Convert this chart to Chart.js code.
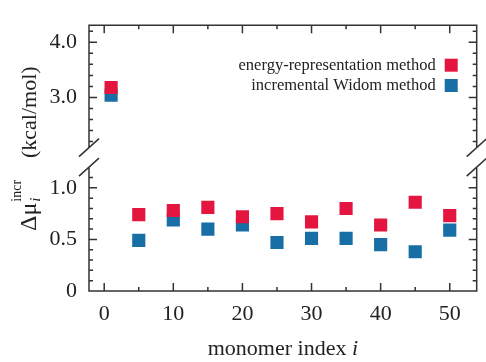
<!DOCTYPE html>
<html>
<head>
<meta charset="utf-8">
<style>
  html, body { margin: 0; padding: 0; background: #fff; }
  canvas { display: block; }
</style>
</head>
<body>
<canvas id="chart" width="486" height="362"></canvas>
<script src="https://cdn.jsdelivr.net/npm/chart.js@4.4.1/dist/chart.umd.min.js"></script>
<script>
const monomerIndex = [1, 5, 10, 15, 20, 25, 30, 35, 40, 45, 50];
const energyRepresentation = [3.18, 0.74, 0.78, 0.81, 0.72, 0.75, 0.67, 0.80, 0.64, 0.86, 0.73];
const incrementalWidom = [3.04, 0.49, 0.69, 0.60, 0.64, 0.47, 0.51, 0.51, 0.45, 0.38, 0.59];

const seriesLabels = ['energy-representation method', 'incremental Widom method'];
const seriesColors = ['#e4163f', '#176fa6'];

const xTickLabels = [0, 10, 20, 30, 40, 50];
const yTopTickLabels = [3.0, 4.0];
const yBottomTickLabels = [0, 0.5, 1.0];

// values above this go to the upper panel of the broken axis
const breakAt = 2;
// visible ends of the axis frame on each side of the break
const topFrameMin = 2.09;
const bottomFrameMax = 1.2;

const FONT = "'Liberation Serif', 'DejaVu Serif', serif";
const INK = '#222';
const FRAME = '#333';

const hasLabel = (list, value) => list.some((t) => Math.abs(t - value) < 1e-6);
const fmt = (value) => (value === 0 ? '0' : value.toFixed(1));

/* PLUGINS */

// white page behind the chart
const background = {
  id: 'background',
  beforeDraw(chart) {
    const { ctx, width, height } = chart;
    ctx.save();
    ctx.fillStyle = '#fff';
    ctx.fillRect(0, 0, width, height);
    ctx.restore();
  },
};

// box frame with inward ticks and the axis break marks
const frame = {
  id: 'frame',
  afterDatasetsDraw(chart) {
    const { ctx, chartArea } = chart;
    const { left, right, top, bottom } = chartArea;
    const { x, yTop, yBottom } = chart.scales;
    const topEnd = yTop.getPixelForValue(topFrameMin);
    const bottomStart = yBottom.getPixelForValue(bottomFrameMax);

    ctx.save();
    ctx.strokeStyle = FRAME;
    ctx.lineWidth = 1.5;
    ctx.beginPath();
    ctx.moveTo(left, topEnd);
    ctx.lineTo(left, top);
    ctx.lineTo(right, top);
    ctx.lineTo(right, topEnd);
    ctx.moveTo(left, bottomStart);
    ctx.lineTo(left, bottom);
    ctx.lineTo(right, bottom);
    ctx.lineTo(right, bottomStart);

    // break marks
    [left, right].forEach((bx) => {
      [topEnd, bottomStart].forEach((by) => {
        ctx.moveTo(bx - 10, by + 9);
        ctx.lineTo(bx + 10, by - 9);
      });
    });

    // x ticks, bottom and top
    x.ticks.forEach((t) => {
      const px = x.getPixelForValue(t.value);
      const len = hasLabel(xTickLabels, t.value) ? 8 : 4;
      ctx.moveTo(px, bottom);
      ctx.lineTo(px, bottom - len);
      ctx.moveTo(px, top);
      ctx.lineTo(px, top + len);
    });

    // y ticks, left and right
    const yTicks = (scale, labels, lo, hi) => {
      scale.ticks.forEach((t) => {
        if (t.value < lo - 1e-6 || t.value > hi + 1e-6) return;
        const py = scale.getPixelForValue(t.value);
        const len = hasLabel(labels, t.value) ? 8 : 4;
        ctx.moveTo(left, py);
        ctx.lineTo(left + len, py);
        ctx.moveTo(right, py);
        ctx.lineTo(right - len, py);
      });
    };
    yTicks(yTop, yTopTickLabels, topFrameMin, yTop.max);
    yTicks(yBottom, yBottomTickLabels, 0, bottomFrameMax - 0.05);

    ctx.stroke();
    ctx.restore();
  },
};

// legend: right aligned text with the square marker after it
const legendRight = {
  id: 'legendRight',
  afterDraw(chart) {
    const { ctx, chartArea } = chart;
    ctx.save();
    ctx.font = `16.5px ${FONT}`;
    ctx.textAlign = 'right';
    ctx.textBaseline = 'middle';
    seriesLabels.forEach((label, k) => {
      const cy = chartArea.top + 40 + k * 20.3;
      ctx.fillStyle = INK;
      ctx.fillText(label, chartArea.right - 41, cy);
      ctx.fillStyle = seriesColors[k];
      ctx.fillRect(chartArea.right - 32, cy - 6.5, 13, 13);
    });
    ctx.restore();
  },
};

// axis titles with italic index, subscript and superscript
const axisTitles = {
  id: 'axisTitles',
  afterDraw(chart) {
    const { ctx, chartArea } = chart;
    ctx.save();
    ctx.fillStyle = INK;
    ctx.textBaseline = 'alphabetic';

    // x title
    ctx.font = `22px ${FONT}`;
    const main = 'monomer index ';
    const wMain = ctx.measureText(main).width;
    ctx.font = `italic 22px ${FONT}`;
    const wI = ctx.measureText('i').width;
    const x0 = (chartArea.left + chartArea.right) / 2 - (wMain + wI) / 2;
    ctx.font = `22px ${FONT}`;
    ctx.textAlign = 'left';
    ctx.fillText(main, x0, 355);
    ctx.font = `italic 22px ${FONT}`;
    ctx.fillText('i', x0 + wMain, 355);

    // y title
    ctx.translate(36, 231);
    ctx.rotate(-Math.PI / 2);
    ctx.font = `24px ${FONT}`;
    ctx.fillText('Δμ', 0, 0);
    const w = ctx.measureText('Δμ').width;
    ctx.font = `italic 15px ${FONT}`;
    ctx.fillText('i', w + 1, 4);
    ctx.font = `14px ${FONT}`;
    ctx.fillText('incr', w + 1, -15);
    ctx.font = `22px ${FONT}`;
    ctx.fillText('(kcal/mol)', 73, 0);
    ctx.restore();
  },
};

/* DATA */

const toPoints = (values, inTop) => monomerIndex
  .map((x, k) => ({ x, y: values[k] }))
  .filter((p) => (p.y > breakAt) === inTop);

const makeDataset = (k, values, inTop) => ({
  label: seriesLabels[k],
  data: toPoints(values, inTop),
  yAxisID: inTop ? 'yTop' : 'yBottom',
  backgroundColor: seriesColors[k],
  borderColor: seriesColors[k],
  borderWidth: 0,
  pointStyle: 'rect',
  pointRadius: 9.3,
  pointHoverRadius: 9.3,
  showLine: false,
});

const data = {
  datasets: [
    makeDataset(0, energyRepresentation, false),
    makeDataset(0, energyRepresentation, true),
    makeDataset(1, incrementalWidom, false),
    makeDataset(1, incrementalWidom, true),
  ],
};

/* CONFIG */

Chart.defaults.font.family = FONT;
Chart.defaults.font.size = 22;
Chart.defaults.color = INK;

const hiddenGrid = { display: false, drawTicks: false };

const config = {
  type: 'scatter',
  data,
  options: {
    responsive: false,
    animation: false,
    devicePixelRatio: 1,
    layout: { padding: { left: 0, right: 9, top: 5, bottom: 0 } },
    plugins: {
      legend: { display: false },
      tooltip: { enabled: false },
    },
    scales: {
      x: {
        type: 'linear',
        min: -2.2,
        max: 53.9,
        grid: hiddenGrid,
        border: { display: false },
        ticks: {
          stepSize: 5,
          includeBounds: false,
          autoSkip: false,
          maxRotation: 0,
          padding: 10,
          callback: (value) => (hasLabel(xTickLabels, value) ? String(value) : ''),
        },
        afterFit(scale) { scale.height = 71; },
      },
      yTop: {
        type: 'linear',
        position: 'left',
        stack: 'y',
        stackWeight: 142,
        weight: 2,
        min: 1.917,
        max: 4.31,
        grid: hiddenGrid,
        border: { display: false },
        ticks: {
          stepSize: 0.2,
          includeBounds: false,
          autoSkip: false,
          padding: 12,
          callback: (value) => (hasLabel(yTopTickLabels, value) ? fmt(value) : ''),
        },
        afterFit(scale) { scale.width = 89; },
      },
      yBottom: {
        type: 'linear',
        position: 'left',
        stack: 'y',
        stackWeight: 144,
        weight: 1,
        min: 0,
        max: 1.297,
        grid: hiddenGrid,
        border: { display: false },
        ticks: {
          stepSize: 0.1,
          includeBounds: false,
          autoSkip: false,
          padding: 12,
          callback: (value) => (hasLabel(yBottomTickLabels, value) ? fmt(value) : ''),
        },
        afterFit(scale) { scale.width = 89; },
      },
    },
  },
  plugins: [background, frame, legendRight, axisTitles],
};

/* CHART */

const myChart = new Chart(document.getElementById('chart').getContext('2d'), config);
</script>
</body>
</html>
